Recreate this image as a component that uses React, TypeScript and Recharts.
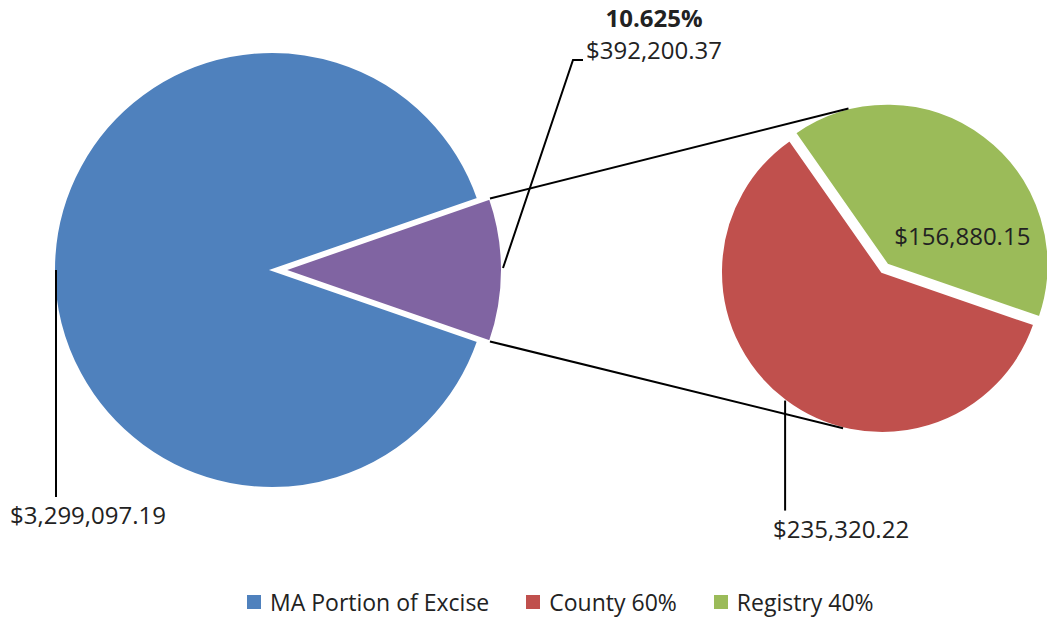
import React from 'react';
import { PieChart, Pie, Cell, Legend } from 'recharts';

// ---------- data ----------
const mainNames = ['MA Portion of Excise', 'Registry & County Share'];
const mainValues = [3299097.19, 392200.37];
const mainValueLabels = ['$3,299,097.19', '$392,200.37'];
const splitPercentLabel = '10.625%';

const subNames = ['County 60%', 'Registry 40%'];
const subValues = [235320.22, 156880.15];
const subValueLabels = ['$235,320.22', '$156,880.15'];

const legendNames = ['MA Portion of Excise', 'County 60%', 'Registry 40%'];

// ---------- style ----------
const BLUE = '#4F81BD';
const PURPLE = '#8064A2';
const RED = '#C0504D';
const GREEN = '#9BBB59';
const legendColors = [BLUE, RED, GREEN];
const FONT = '"Open Sans", "Liberation Sans", sans-serif';
const TEXT = '#222';

const mainData = mainNames.map((name, i) => ({ name, value: mainValues[i], label: mainValueLabels[i] }));
const subData = subNames.map((name, i) => ({ name, value: subValues[i], label: subValueLabels[i] }));

// ---------- geometry helpers ----------
const RAD = Math.PI / 180;
const polar = (cx: number, cy: number, r: number, a: number) => ({
  x: cx + r * Math.cos(a * RAD),
  y: cy - r * Math.sin(a * RAD),
});
const sum = (arr: number[]) => arr.reduce((a, b) => a + b, 0);
const midAngleOf = (vals: number[], i: number, start: number) => {
  const t = sum(vals);
  const before = sum(vals.slice(0, i));
  return start + (360 * (before + vals[i] / 2)) / t;
};

const MAIN = { cx: 272, cy: 270, r: 218 };
const MAIN_EXPLODE = 12;
const mainHalf = (180 * mainValues[1]) / sum(mainValues);
const MAIN_START = mainHalf; // split slice centred on the right
const splitMid = midAngleOf(mainValues, 1, MAIN_START);
const splitCenter = polar(MAIN.cx, MAIN.cy, MAIN_EXPLODE, splitMid);

const SUB = { cx: 882, cy: 272, r: 161 };
const SUB_EXPLODE = 9;
const SUB_START = 125;
const registryMid = midAngleOf(subValues, 1, SUB_START);
const registryCenter = polar(SUB.cx, SUB.cy, SUB_EXPLODE, registryMid);

const TOP_CONNECT_ANGLE = 104;
const BOTTOM_CONNECT_ANGLE = 256;

const textStyle = { fontFamily: FONT, fontSize: 24, fill: TEXT } as const;

// ---------- label renderers ----------
const renderMainBaseLabel = (props: any) => {
  if (props.index !== 0) return null;
  const cx = Number(props.cx);
  const cy = Number(props.cy);
  const r = Number(props.outerRadius);
  const p = polar(cx, cy, r, props.midAngle);
  const lx = p.x + 2;
  return (
    <g>
      <line x1={lx} y1={p.y} x2={lx} y2={p.y + 227} stroke="#000" strokeWidth={2} />
      <text x={p.x - 44} y={p.y + 254} textAnchor="start" {...textStyle}>
        {mainValueLabels[0]}
      </text>
    </g>
  );
};

const renderSplitLabel = (props: any) => {
  if (props.index !== 1) return null;
  const cx = Number(props.cx);
  const cy = Number(props.cy);
  const r = Number(props.outerRadius);
  const mid = props.midAngle;
  const half = 180 * Number(props.percent);
  const p = polar(cx, cy, r, mid);
  const topCorner = polar(cx, cy, r, mid + half);
  const botCorner = polar(cx, cy, r, mid - half);
  const topEnd = polar(registryCenter.x, registryCenter.y, SUB.r, TOP_CONNECT_ANGLE);
  const botEnd = polar(SUB.cx, SUB.cy, SUB.r, BOTTOM_CONNECT_ANGLE);
  const elbow = { x: p.x + 71, y: p.y - 210 };
  return (
    <g>
      <line x1={topCorner.x} y1={topCorner.y} x2={topEnd.x} y2={topEnd.y} stroke="#000" strokeWidth={2} />
      <line x1={botCorner.x} y1={botCorner.y} x2={botEnd.x} y2={botEnd.y} stroke="#000" strokeWidth={2} />
      <polyline
        points={`${p.x + 1},${p.y - 2} ${elbow.x},${elbow.y} ${elbow.x + 10},${elbow.y}`}
        fill="none"
        stroke="#000"
        strokeWidth={2}
      />
      <text x={p.x + 152} y={p.y - 243} textAnchor="middle" {...textStyle} fontWeight="bold">
        {splitPercentLabel}
      </text>
      <text x={p.x + 152} y={p.y - 211} textAnchor="middle" {...textStyle}>
        {mainValueLabels[1]}
      </text>
    </g>
  );
};

const renderCountyLabel = (props: any) => {
  if (props.index !== 0) return null;
  const cx = Number(props.cx);
  const cy = Number(props.cy);
  const r = Number(props.outerRadius);
  const p = polar(cx, cy, r, props.midAngle);
  return (
    <g>
      <line x1={p.x} y1={p.y} x2={p.x} y2={p.y + 110} stroke="#000" strokeWidth={2} />
      <text x={p.x - 12} y={p.y + 137} textAnchor="start" {...textStyle}>
        {subValueLabels[0]}
      </text>
    </g>
  );
};

const renderRegistryLabel = (props: any) => {
  if (props.index !== 1) return null;
  const cx = Number(props.cx);
  const cy = Number(props.cy);
  const p = polar(cx, cy, 80, 20.5);
  return (
    <text x={p.x} y={p.y + 8} textAnchor="middle" {...textStyle}>
      {subValueLabels[1]}
    </text>
  );
};

const renderLegend = () => (
  <div
    style={{
      display: 'flex',
      alignItems: 'center',
      paddingLeft: 247,
      fontFamily: FONT,
      fontSize: 23,
      color: TEXT,
      lineHeight: '28px',
    }}
  >
    {legendNames.map((n, i) => (
      <div key={n} style={{ display: 'flex', alignItems: 'center', marginRight: 37 }}>
        <span style={{ width: 14, height: 14, background: legendColors[i], marginRight: 9, display: 'inline-block' }} />
        <span>{n}</span>
      </div>
    ))}
  </div>
);

export default function App() {
  return (
    <div style={{ position: 'absolute', left: 0, top: 0, width: 1047, height: 620, background: '#fff' }}>
      <PieChart width={1047} height={620} margin={{ top: 0, right: 0, bottom: 0, left: 0 }}>
        {/* main pie: base slice */}
        <Pie
          data={mainData}
          dataKey="value"
          nameKey="name"
          cx={MAIN.cx}
          cy={MAIN.cy}
          outerRadius={MAIN.r}
          startAngle={MAIN_START}
          endAngle={MAIN_START + 360}
          isAnimationActive={false}
          stroke="#fff"
          strokeWidth={2}
          labelLine={false}
          label={renderMainBaseLabel}
        >
          <Cell fill={BLUE} />
          <Cell fill="transparent" stroke="none" />
        </Pie>
        {/* main pie: exploded split slice */}
        <Pie
          data={mainData}
          dataKey="value"
          nameKey="name"
          cx={splitCenter.x}
          cy={splitCenter.y}
          outerRadius={MAIN.r}
          startAngle={MAIN_START}
          endAngle={MAIN_START + 360}
          isAnimationActive={false}
          stroke="#fff"
          strokeWidth={2}
          labelLine={false}
          label={renderSplitLabel}
        >
          <Cell fill="transparent" stroke="none" />
          <Cell fill={PURPLE} />
        </Pie>
        {/* secondary pie: county */}
        <Pie
          data={subData}
          dataKey="value"
          nameKey="name"
          cx={SUB.cx}
          cy={SUB.cy}
          outerRadius={SUB.r}
          startAngle={SUB_START}
          endAngle={SUB_START + 360}
          isAnimationActive={false}
          stroke="#fff"
          strokeWidth={2}
          labelLine={false}
          label={renderCountyLabel}
        >
          <Cell fill={RED} />
          <Cell fill="transparent" stroke="none" />
        </Pie>
        {/* secondary pie: exploded registry */}
        <Pie
          data={subData}
          dataKey="value"
          nameKey="name"
          cx={registryCenter.x}
          cy={registryCenter.y}
          outerRadius={SUB.r}
          startAngle={SUB_START}
          endAngle={SUB_START + 360}
          isAnimationActive={false}
          stroke="#fff"
          strokeWidth={2}
          labelLine={false}
          label={renderRegistryLabel}
        >
          <Cell fill="transparent" stroke="none" />
          <Cell fill={GREEN} />
        </Pie>
        <Legend
          content={renderLegend}
          wrapperStyle={{ position: 'absolute', left: 0, top: 588, width: 1047, height: 28 }}
        />
      </PieChart>
    </div>
  );
}
